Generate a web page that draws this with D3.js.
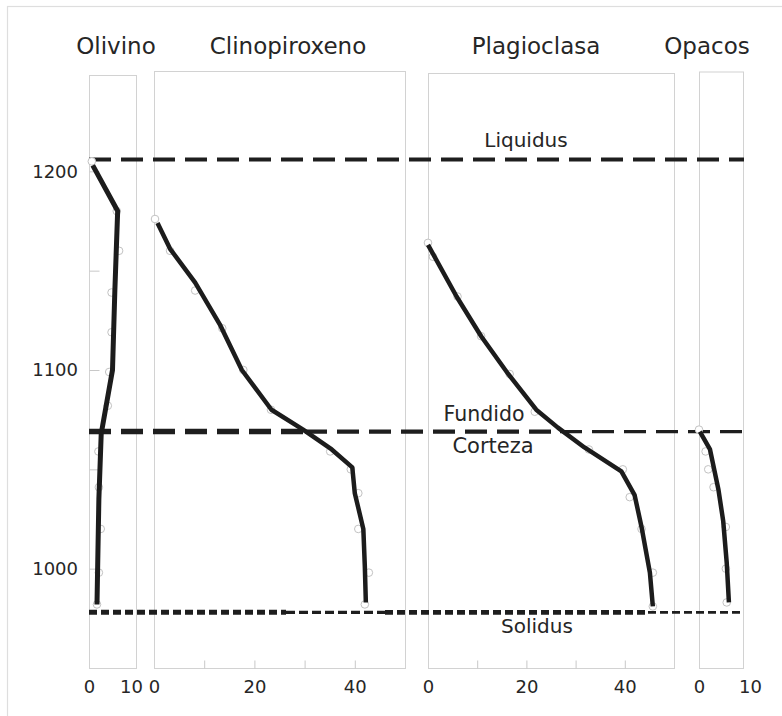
<!DOCTYPE html>
<html>
<head>
<meta charset="utf-8">
<script src="https://cdn.jsdelivr.net/npm/d3@7"></script>
<style>
  body { margin: 0; background: #fff; }
  svg { display: block; }
  text { font-family: "DejaVu Sans", sans-serif; fill: #262626; }
</style>
</head>
<body>
<svg id="chart" width="782" height="716"></svg>
<script>
// Modal proportions (%) of crystallising minerals versus temperature (°C)
const minerals = ["Olivino", "Clinopiroxeno", "Plagioclasa", "Opacos"];
const percentMax = [10, 50, 50, 10];
const percentTickLabels = [[0, 10], [0, 20, 40], [0, 20, 40], [0, 10]];
const percentMinorTicks = [[], [10, 20, 30, 40], [10, 20, 30, 40], []];

const tempDomain = [950, 1250];
const tempTickLabels = [1000, 1100, 1200];
const tempMinorTicks = [1000, 1050, 1100, 1150, 1200];

// Trend lines (temperature, percent)
const olivinoLineT = [1203, 1180, 1140, 1100, 1068, 1035, 982];
const olivinoLineP = [0.8, 6.1, 5.5, 5.0, 2.6, 2.1, 1.7];
const clinoLineT = [1174, 1161, 1144, 1123, 1100, 1080, 1070, 1060, 1051, 1038, 1020, 1001, 983];
const clinoLineP = [0.7, 3.2, 8.2, 13.1, 17.5, 23.4, 29.7, 35.4, 39.5, 40.0, 41.7, 42.0, 42.2];
const plagioLineT = [1163, 1137, 1117, 1098, 1080, 1071, 1061, 1049, 1037, 1021, 998, 981];
const plagioLineP = [0, 5.8, 10.8, 16.3, 22.0, 26.4, 31.8, 39.3, 42.0, 43.4, 45.1, 45.7];
const opacosLineT = [1069, 1060, 1040, 1024, 1003, 983];
const opacosLineP = [0.2, 2.5, 4.4, 5.5, 6.3, 6.8];

// Measured samples (temperature, percent)
const olivinoPtsT = [1205, 1180, 1160, 1139, 1119, 1099, 1082, 1059, 1041, 1020, 998, 982];
const olivinoPtsP = [0.6, 5.9, 6.4, 4.8, 4.8, 4.3, 4.0, 2.0, 2.1, 2.5, 2.1, 1.7];
const clinoPtsT = [1176, 1160, 1140, 1121, 1100, 1080, 1059, 1050, 1038, 1020, 998, 982];
const clinoPtsP = [0.2, 3.2, 8.2, 13.6, 17.8, 23.3, 35.1, 39.2, 40.7, 40.7, 42.8, 42.0];
const plagioPtsT = [1164, 1157, 1137, 1117, 1098, 1079, 1060, 1050, 1036, 1020, 998, 981];
const plagioPtsP = [0, 1.0, 6.0, 10.8, 16.6, 21.7, 32.7, 39.6, 41.0, 43.4, 45.7, 45.7];
const opacosPtsT = [1070, 1059, 1050, 1041, 1021, 1000, 983];
const opacosPtsP = [0, 1.5, 2.1, 3.3, 6.1, 6.1, 6.3];

// Boundary temperatures
const boundaryNames = ["Liquidus", "Fundido / Corteza", "Solidus"];
const boundaryTemps = [1206, 1069, 978];

const lineT = [olivinoLineT, clinoLineT, plagioLineT, opacosLineT];
const lineP = [olivinoLineP, clinoLineP, plagioLineP, opacosLineP];
const ptsT = [olivinoPtsT, clinoPtsT, plagioPtsT, opacosPtsT];
const ptsP = [olivinoPtsP, clinoPtsP, plagioPtsP, opacosPtsP];

// Panel placement
const layout = [
  { x0: 89,  x1: 136, top: 75,   titleX: 116, labelShift: { 10: -5 } },
  { x0: 154, x1: 405, top: 71,   titleX: 288, labelShift: {} },
  { x0: 428, x1: 674, top: 73,   titleX: 536, labelShift: {} },
  { x0: 699, x1: 743, top: 71.5, titleX: 707, labelShift: { 10: 7 } }
];
const plotBottom = 668;

const svg = d3.select("#chart");
const y = d3.scaleLinear().domain(tempDomain).range([plotBottom, 72]);

// outer frame
svg.append("rect").attr("x", 7.5).attr("y", 6.5).attr("width", 800).attr("height", 730)
  .attr("fill", "none").attr("stroke", "#dedede").attr("stroke-width", 1.2);

const xScales = minerals.map((m, i) =>
  d3.scaleLinear().domain([0, percentMax[i]]).range([layout[i].x0, layout[i].x1]));

// panel boxes, titles and percent axes
minerals.forEach((name, i) => {
  const L = layout[i], x = xScales[i];
  svg.append("rect")
    .attr("x", L.x0 + 0.5).attr("y", L.top + 0.5)
    .attr("width", L.x1 - L.x0).attr("height", plotBottom - L.top)
    .attr("fill", "none").attr("stroke", "#d2d2d2").attr("stroke-width", 1);

  svg.append("text").attr("x", L.titleX).attr("y", 54)
    .attr("text-anchor", "middle").attr("font-size", 23).text(name);

  const minor = svg.append("g").attr("transform", `translate(0,${plotBottom + 0.5})`)
    .call(d3.axisBottom(x).tickValues(percentMinorTicks[i]).tickSize(-8).tickFormat(""));
  minor.select(".domain").remove();
  minor.selectAll("line").attr("stroke", "#c8c8c8");

  const lab = svg.append("g").attr("transform", `translate(0,${plotBottom})`)
    .call(d3.axisBottom(x).tickValues(percentTickLabels[i]).tickSize(0).tickPadding(12));
  lab.select(".domain").remove();
  lab.selectAll("text").attr("font-size", 18).attr("font-family", null)
    .attr("dx", d => L.labelShift[d] || 0);
});

// temperature axis
const yLab = svg.append("g").attr("transform", `translate(${layout[0].x0},0)`)
  .call(d3.axisLeft(y).tickValues(tempTickLabels).tickSize(0).tickPadding(11).tickFormat(d3.format("d")));
yLab.select(".domain").remove();
yLab.selectAll("text").attr("font-size", 18).attr("font-family", null);

const yMinor = svg.append("g").attr("transform", `translate(${layout[0].x0 + 0.5},0)`)
  .call(d3.axisRight(y).tickValues(tempMinorTicks).tickSize(10).tickFormat(""));
yMinor.select(".domain").remove();
yMinor.selectAll("line").attr("stroke", "#c8c8c8");

// boundary lines, drawn in stretches of varying weight
const xLeft = layout[0].x0, xRight = layout[3].x1 + 1;
const boundaryStyles = [
  [{ a: xLeft, b: xRight, w: 4, dash: "22 10" }],
  [{ a: xLeft, b: 305, w: 5.5, dash: "22 10" },
   { a: 305, b: 560, w: 4.2, dash: "22 10" },
   { a: 560, b: xRight, w: 3.2, dash: "22 10" }],
  [{ a: xLeft, b: 286, w: 5, dash: "8 4" },
   { a: 286, b: 385, w: 3.4, dash: "9 4" },
   { a: 385, b: 648, w: 4.6, dash: "8 4" },
   { a: 648, b: xRight, w: 2.6, dash: "8 4" }]
];
boundaryTemps.forEach((t, k) => {
  boundaryStyles[k].forEach(s => {
    svg.append("line")
      .attr("x1", s.a).attr("x2", s.b).attr("y1", y(t)).attr("y2", y(t))
      .attr("stroke", "#1e1e1e").attr("stroke-width", s.w)
      .attr("stroke-dasharray", s.dash);
  });
});

// boundary labels
svg.append("text").attr("x", 526).attr("y", y(boundaryTemps[0]) - 12)
  .attr("text-anchor", "middle").attr("font-size", 20).text("Liquidus");
svg.append("text").attr("x", 484).attr("y", y(boundaryTemps[1]) - 11)
  .attr("text-anchor", "middle").attr("font-size", 20.5).text("Fundido");
svg.append("text").attr("x", 493).attr("y", y(boundaryTemps[1]) + 21)
  .attr("text-anchor", "middle").attr("font-size", 21).text("Corteza");
svg.append("text").attr("x", 537).attr("y", y(boundaryTemps[2]) + 21)
  .attr("text-anchor", "middle").attr("font-size", 20).text("Solidus");

// sample markers and trend curves
minerals.forEach((name, i) => {
  const x = xScales[i];
  const pts = ptsT[i].map((t, j) => [ptsP[i][j], t]);
  svg.append("g").selectAll("circle").data(pts).join("circle")
    .attr("cx", d => x(d[0])).attr("cy", d => y(d[1])).attr("r", 3.8)
    .attr("fill", "#fff").attr("stroke", "#c2c2c2").attr("stroke-width", 1);

  const line = lineT[i].map((t, j) => [lineP[i][j], t]);
  svg.append("path").datum(line)
    .attr("d", d3.line().x(d => x(d[0])).y(d => y(d[1])))
    .attr("fill", "none").attr("stroke", "#1c1c1c")
    .attr("stroke-width", i === 0 ? 5 : 4.5).attr("stroke-linejoin", "round");
});
</script>
</body>
</html>
